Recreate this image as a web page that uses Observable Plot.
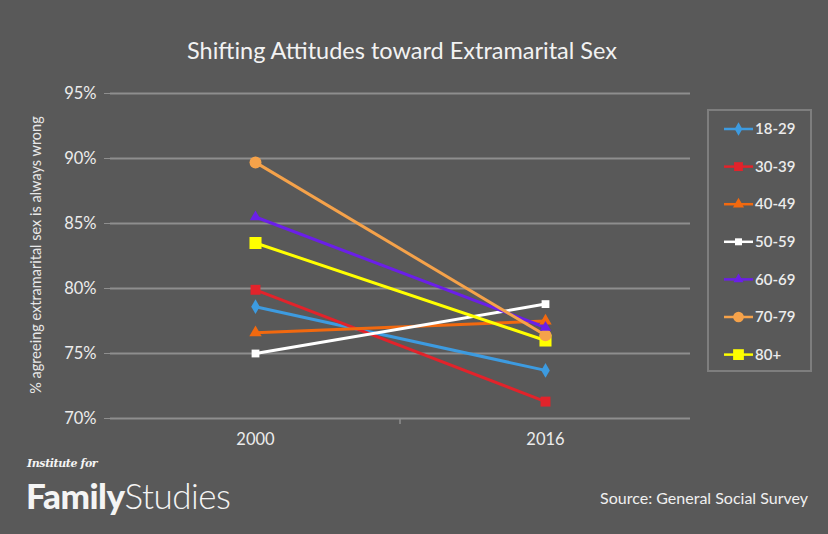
<!DOCTYPE html>
<html>
<head>
<meta charset="utf-8">
<script src="https://cdn.jsdelivr.net/npm/d3@7"></script>
<script src="https://cdn.jsdelivr.net/npm/@observablehq/plot@0.6"></script>
<style>
  html, body { margin:0; padding:0; background:#595959; }
  #wrap { position:relative; width:828px; height:534px; background:#595959; font-family: Lato, "Open Sans", sans-serif; color:#eeeeee; overflow:hidden; }
  #title { position:absolute; left:0; width:804px; top:36px; text-align:center; font-size:23.5px; color:#f2f2f2; }
  #ylabel { position:absolute; left:35px; top:255px; transform:translate(-50%,-50%) rotate(-90deg); white-space:nowrap; font-size:14.5px; color:#e8e8e8; }
  #legend { position:absolute; left:707px; top:109px; width:101px; height:259px; border:2px solid #7e7e7e; }
  #inst { position:absolute; left:27px; top:458px; line-height:11px; font-family:"DejaVu Serif", serif; font-style:italic; font-weight:bold; font-size:11px; color:#f4f4f4; letter-spacing:-0.4px; }
  #fam { position:absolute; left:26px; top:478px; line-height:35px; font-size:35px; color:#f4f4f4; letter-spacing:-0.5px; }
  #fam b { font-weight:900; }
  #fam span { font-weight:300; }
  #src { position:absolute; right:20px; top:488px; font-size:16px; color:#f0f0f0; }
</style>
</head>
<body>
<div id="wrap">
  <div id="chart"></div>
  <div id="title">Shifting Attitudes toward Extramarital Sex</div>
  <div id="ylabel">% agreeing extramarital sex is always wrong</div>
  <div id="legend"></div>
  <div id="inst">Institute for</div>
  <div id="fam"><b>Family</b><span>Studies</span></div>
  <div id="src">Source: General Social Survey</div>
</div>
<script>
const ages = ["18-29","30-39","40-49","50-59","60-69","70-79","80+"];
const years = ["2000","2016"];
const values2000 = [78.6, 79.9, 76.6, 75.0, 85.5, 89.7, 83.5];
const values2016 = [73.7, 71.3, 77.5, 78.8, 77.0, 76.4, 76.0];
const yTicks = [70, 75, 80, 85, 90, 95];
const colors = ["#3d9be0", "#e2232b", "#f2690f", "#ffffff", "#6b1fe8", "#f5a24a", "#ffff00"];
const symbols = ["diamond", "square", "triangle", "square", "triangle", "circle", "square"];
const radii = [4.5, 5.6, 4.6, 4.4, 4.2, 6, 6.8];

const data = [];
ages.forEach((a, i) => {
  data.push({age: a, year: years[0], value: values2000[i], r: radii[i]});
  data.push({age: a, year: years[1], value: values2016[i], r: radii[i]});
});

const plot = Plot.plot({
  width: 828, height: 534,
  marginLeft: 110, marginRight: 138, marginTop: 93, marginBottom: 116,
  style: {background: "transparent", color: "#ececec", fontFamily: "Lato, 'Open Sans', sans-serif", fontSize: "16.5px"},
  x: {type: "point", domain: years, padding: 0.5, label: null},
  y: {domain: [70, 95], label: null},
  color: {domain: ages, range: colors},
  symbol: {domain: ages, range: symbols},
  r: {type: "identity"},
  marks: [
    Plot.gridY(yTicks, {stroke: "#8e8e8e", strokeOpacity: 1, strokeWidth: 2.2}),
    Plot.axisY(yTicks, {tickSize: 6, tickPadding: 8, tickFormat: d => d + "%", stroke: "#8e8e8e", label: null, fill: "#ececec"}),
    Plot.axisX({tickSize: 0, tickPadding: 15, label: null, fill: "#ececec"}),
    Plot.line(data, {x: "year", y: "value", z: "age", stroke: "age", strokeWidth: 3}),
    Plot.dot(data, {x: "year", y: "value", symbol: "age", fill: "age", r: "r", stroke: "none"})
  ]
});
document.getElementById("chart").appendChild(plot);

// vertical y-axis line and x-axis ticks, positioned from the plot's scales
const xs = plot.scale("x"), ys = plot.scale("y");
const svg = d3.select(plot);
const left = xs.range[0] - xs.step * 0.5, right = xs.range[1] + xs.step * 0.5;
const yTop = ys.apply(95), yBot = ys.apply(70);
svg.insert("line", ":first-child").attr("x1", left).attr("x2", left).attr("y1", yTop).attr("y2", yBot)
  .attr("stroke", "#8e8e8e").attr("stroke-width", 2);
[left, (left + right) / 2, right].forEach(x => {
  svg.insert("line", ":first-child").attr("x1", x).attr("x2", x).attr("y1", yBot).attr("y2", yBot + 6)
    .attr("stroke", "#8e8e8e").attr("stroke-width", 1.5);
});

// legend
const lg = d3.select("#legend").append("svg").attr("width", 101).attr("height", 259);
ages.forEach((a, i) => {
  const y = 18 + i * 37.6;
  const g = lg.append("g").attr("transform", `translate(0,${y})`);
  g.append("line").attr("x1", 15).attr("x2", 44).attr("y1", 0).attr("y2", 0).attr("stroke", colors[i]).attr("stroke-width", 2.5);
  const s = symbols[i];
  const sym = d3.symbol().type(s === "diamond" ? d3.symbolDiamond : s === "square" ? d3.symbolSquare : s === "triangle" ? d3.symbolTriangle : d3.symbolCircle)
    .size(Math.PI * radii[i] * radii[i] * 0.8);
  g.append("path").attr("d", sym()).attr("transform", "translate(29.5,0)").attr("fill", colors[i]);
  g.append("text").attr("x", 46).attr("y", 0).attr("dy", "0.35em").attr("fill", "#ececec")
    .attr("font-size", "15px").attr("font-weight", "600").attr("font-family", "Lato, sans-serif").text(a);
});
</script>
</body>
</html>
